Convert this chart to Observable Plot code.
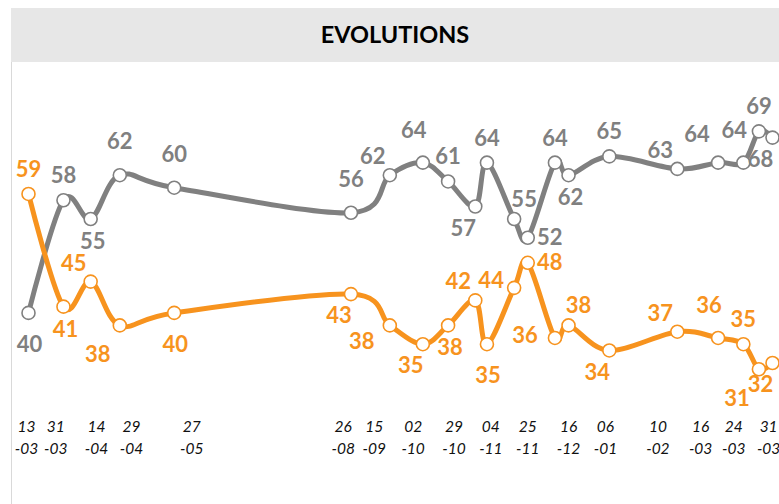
<!DOCTYPE html>
<html>
<head>
<meta charset="utf-8">
<script src="https://cdn.jsdelivr.net/npm/d3@7"></script>
<script src="https://cdn.jsdelivr.net/npm/@observablehq/plot@0.6"></script>
<style>
  html, body { margin: 0; padding: 0; background: #ffffff; width: 779px; height: 504px; overflow: hidden; }
  #wrap { position: relative; width: 779px; height: 504px; }
  #title {
    position: absolute; left: 11px; top: 8px; width: 790px; height: 54px;
    background: #e7e7e7; display: flex; align-items: center; justify-content: center;
    font-family: Lato, "Open Sans", sans-serif; font-weight: 700; font-size: 23.5px; color: #000;
    box-sizing: border-box; padding-right: 22px; padding-bottom: 2px;
  }
  #frameLine { position: absolute; left: 11px; top: 62px; width: 1px; height: 442px; background: #d9d9d9; }
  #chart { position: absolute; left: 0; top: 62px; }
</style>
</head>
<body>
<div id="wrap">
  <div id="title">EVOLUTIONS</div>
  <div id="frameLine"></div>
  <div id="chart"></div>
</div>
<script>
// ---- data ----
const dates = ["2020-03-13","2020-03-31","2020-04-14","2020-04-29","2020-05-27","2020-08-26","2020-09-15",
  "2020-10-02","2020-10-15","2020-10-29","2020-11-04","2020-11-18","2020-11-25","2020-12-09","2020-12-16",
  "2021-01-06","2021-02-10","2021-03-03","2021-03-16","2021-03-24","2021-03-31"];
const grayValues   = [40,58,55,62,60,56,62,64,61,57,64,55,52,64,62,65,63,64,64,69,68];
const orangeValues = [59,41,45,38,40,43,38,35,38,42,35,44,48,36,38,34,37,36,35,31,32];
// label placement (side of the point where each value label sits)
const grayLabelSide   = ["S","n","s","N","N","N","nw","nnw","n","sw","n","ne","e","n","s","n","nw","NW","nnw","n","sw"];
const orangeLabelSide = ["n","s","nw","SW","S","sw","wsw","sw","s","nw","S","wnw","e","w","ne","sw","nw","nnw","n","SW","sw"];
// x axis labels (dd-mm) and the spot on the date axis where each label is printed
const tickLabels = ["13-03","31-03","14-04","29-04","27-05","26-08","15-09","02-10","29-10","04-11",
  "25-11","16-12","06-01","10-02","16-03","24-03","31-03"];
const tickAt = ["2020-03-12","2020-03-27","2020-04-17","2020-05-05","2020-06-05","2020-08-22","2020-09-07",
  "2020-09-27","2020-10-18","2020-11-06","2020-11-25","2020-12-16","2021-01-04","2021-01-31","2021-02-22",
  "2021-03-11","2021-03-29"];

const GRAY = "#808080", ORANGE = "#f7931e";
const sideOffset = {
  n: [0, -24], N: [0, -33], s: [2, 23], S: [1, 32], e: [22, 0], w: [-30, -2],
  ne: [10, -19], nw: [-17, -18], NW: [-21, -28], nnw: [-9, -32],
  sw: [-12, 22], SW: [-22, 30], wsw: [-28, 17], wnw: [-23, -7]
};

const parse = d3.utcParse("%Y-%m-%d");
const gray = dates.map((d, i) => ({date: parse(d), value: grayValues[i], side: grayLabelSide[i]}));
const orange = dates.map((d, i) => ({date: parse(d), value: orangeValues[i], side: orangeLabelSide[i]}));
const ticks = tickAt.map(parse);
const labelOf = new Map(ticks.map((t, i) => [+t, tickLabels[i].replace("-", "\n-")]));

function labels(data, color) {
  const groups = {};
  for (const d of data) (groups[d.side] ??= []).push(d);
  return Object.entries(groups).map(([side, arr]) => Plot.text(arr, {
    x: "date", y: "value", text: d => String(d.value),
    dx: sideOffset[side][0], dy: sideOffset[side][1],
    fill: color, fontSize: 22, fontWeight: 700, fontFamily: "Lato, sans-serif"
  }));
}

const chart = Plot.plot({
  width: 779,
  height: 442,
  marginLeft: 28,
  marginRight: 7,
  marginTop: 0,
  marginBottom: 129,
  style: {background: "transparent", overflow: "visible"},
  x: {type: "utc", domain: [parse(dates[0]), parse(dates[dates.length - 1])]},
  y: {domain: [30, 80], axis: null},
  marks: [
    Plot.axisX({
      ticks: ticks, tickFormat: d => labelOf.get(+d), tickSize: 0, tickPadding: 41,
      fontSize: 15.5, fontStyle: "italic", fontFamily: "Lato, sans-serif",
      fill: "#111", lineHeight: 1.42, label: null
    }),
    Plot.line(gray, {x: "date", y: "value", stroke: GRAY, strokeWidth: 5, curve: "cardinal", tension: 0}),
    Plot.line(orange, {x: "date", y: "value", stroke: ORANGE, strokeWidth: 5, curve: "cardinal", tension: 0}),
    Plot.dot(gray, {x: "date", y: "value", r: 6.5, fill: "white", stroke: GRAY, strokeWidth: 1.6}),
    Plot.dot(orange, {x: "date", y: "value", r: 6.5, fill: "white", stroke: ORANGE, strokeWidth: 1.6}),
    ...labels(gray, GRAY),
    ...labels(orange, ORANGE)
  ]
});
document.getElementById("chart").appendChild(chart);
</script>
</body>
</html>
